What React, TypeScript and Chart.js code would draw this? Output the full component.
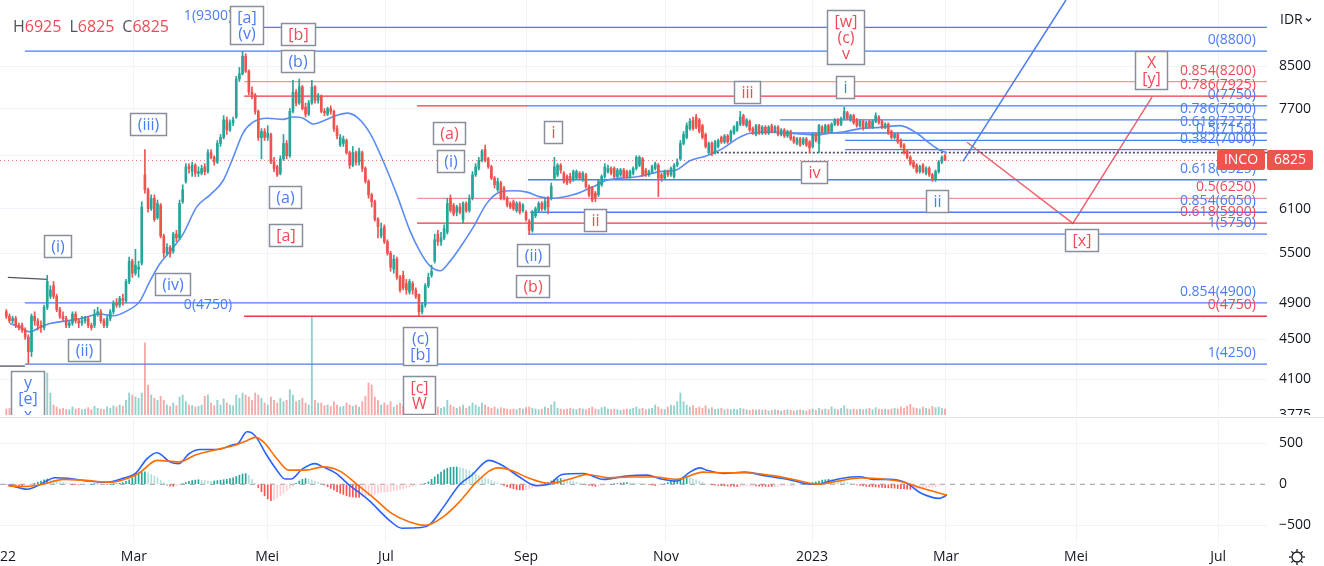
import React, { useEffect, useRef } from "react";
import { Chart, registerables } from "chart.js";
Chart.register(...registerables);

// ---------- DATA (daily candles, bar index 0 = first visible session) ----------
const opens = [
  4800,4750,4700,4725,4650,4650,4600,4525,4375,4750,
  4700,4650,4625,4850,4975,5100,4975,4825,4750,4725,
  4650,4675,4775,4700,4675,4700,4725,4650,4650,4775,
  4800,4700,4650,4725,4800,4900,4875,4950,4925,5150,
  5400,5250,5300,5375,6600,6375,6100,6250,5975,6150,
  5725,5500,5575,5525,5750,5700,6200,6500,6725,6650,
  6750,6625,6625,6725,6650,6950,6875,6800,7100,7200,
  7500,7325,7450,7550,8250,8350,8700,8400,8000,7950,
  7650,7200,7300,7200,7250,6800,6725,6625,6850,7100,
  6900,7650,8000,7800,8100,7725,7600,7800,8100,7850,
  7925,7650,7600,7700,7650,7350,7075,7100,7150,6950,
  6750,6950,6800,6950,6700,6500,6300,6200,5950,5725,
  5850,5650,5500,5300,5425,5200,5225,5125,5025,5125,
  5050,5000,4800,4875,5100,5225,5400,5750,5650,5700,
  5775,6250,6150,6050,6125,5950,6175,6075,6250,6600,
  6700,6825,7000,6850,6725,6550,6375,6475,6400,6250,
  6175,6200,6075,6175,6075,6050,5925,5800,6000,6075,
  6175,6100,6250,6250,6550,6600,6750,6625,6575,6575,
  6525,6550,6625,6525,6600,6425,6400,6325,6300,6450,
  6575,6650,6700,6700,6575,6600,6675,6650,6575,6625,
  6700,6750,6850,6675,6600,6650,6700,6750,6600,6550,
  6650,6600,6575,6750,6850,7100,7200,7350,7500,7550,
  7500,7400,7250,6950,7100,6950,7050,7200,7125,7225,
  7150,7275,7325,7425,7575,7400,7475,7350,7250,7400,
  7275,7375,7275,7400,7300,7375,7250,7325,7225,7300,
  7200,7100,7175,7100,7175,7125,7050,7250,7100,7375,
  7300,7400,7300,7425,7500,7425,7525,7625,7500,7575,
  7500,7400,7475,7375,7475,7375,7475,7550,7475,7375,
  7425,7300,7200,7250,7150,7075,6975,6875,6800,6750,
  6650,6750,6625,6700,6600,6525,6650,6800,6900,
];
const highs = [
  4825,4775,4750,4750,4675,4675,4625,4550,4775,4800,
  4725,4700,4875,5225,5100,5150,5000,4850,4800,4750,
  4700,4800,4800,4725,4750,4750,4750,4675,4825,4850,
  4825,4725,4750,4825,4925,4950,4975,5000,5175,5450,
  5425,5550,5400,6200,7000,6400,6300,6300,6225,6175,
  5750,5625,5600,5775,5800,6225,6450,6775,6775,6800,
  6775,6725,6750,6775,7000,7000,6900,7150,7250,7575,
  7550,7500,7550,8300,8475,8800,8750,8425,8100,7975,
  7675,7350,7350,7400,7275,6875,6750,6900,7250,7150,
  7700,8225,8050,8250,8125,7800,7850,8225,8125,7975,
  7950,7700,7725,7750,7675,7400,7250,7225,7175,6975,
  7050,6975,7025,6975,6725,6525,6325,6225,5975,5900,
  5875,5675,5525,5475,5450,5225,5275,5175,5175,5150,
  5075,5000,4900,5125,5250,5350,5750,5800,5775,5875,
  6250,6300,6175,6150,6175,6200,6200,6300,6650,6775,
  6875,7000,7075,6875,6750,6575,6550,6500,6425,6275,
  6200,6225,6200,6200,6175,6075,5950,6075,6125,6200,
  6200,6250,6275,6475,6875,6775,6775,6650,6600,6625,
  6675,6675,6650,6650,6625,6450,6425,6350,6525,6600,
  6775,6750,6725,6725,6700,6700,6700,6675,6675,6725,
  6900,6900,6875,6700,6675,6750,6800,6775,6625,6675,
  6675,6725,6775,6850,7150,7300,7450,7525,7550,7600,
  7525,7425,7275,7125,7125,7150,7175,7225,7250,7250,
  7325,7400,7475,7650,7600,7525,7500,7375,7425,7425,
  7400,7400,7400,7425,7400,7400,7350,7350,7325,7325,
  7225,7200,7200,7200,7200,7150,7275,7275,7425,7400,
  7425,7425,7450,7525,7525,7550,7725,7650,7600,7600,
  7525,7500,7500,7475,7500,7500,7625,7575,7500,7450,
  7450,7325,7275,7275,7175,7100,7000,6900,6825,6775,
  6750,6775,6725,6725,6625,6675,6825,6900,6925,
];
const lows = [
  4725,4675,4675,4625,4600,4575,4500,4250,4325,4650,
  4600,4575,4600,4825,4950,4950,4800,4725,4700,4625,
  4625,4650,4675,4625,4650,4675,4625,4600,4625,4750,
  4675,4625,4625,4700,4775,4850,4850,4875,4900,5125,
  5200,5225,5200,5350,6325,6050,6075,5925,5950,5700,
  5450,5475,5450,5500,5650,5675,6175,6475,6625,6575,
  6575,6575,6600,6600,6625,6850,6750,6775,7050,7175,
  7250,7300,7400,7525,8200,8325,8375,7950,7875,7600,
  7150,6850,7150,7150,6775,6650,6575,6600,6825,6850,
  6875,7625,7750,7775,7675,7550,7575,7775,7800,7800,
  7625,7575,7575,7600,7300,7175,7050,7050,6925,6700,
  6725,6750,6750,6650,6475,6250,6125,5925,5700,5700,
  5625,5475,5275,5250,5175,5025,5050,5000,5000,5000,
  4950,4750,4775,4850,5075,5200,5375,5600,5600,5675,
  5750,6050,6000,6000,6025,5900,6050,6050,6225,6575,
  6675,6800,6800,6700,6525,6400,6350,6225,6225,6125,
  6100,6075,6050,6025,6050,5925,5750,5775,5975,6050,
  6075,6075,6025,6225,6525,6575,6625,6475,6450,6475,
  6500,6525,6525,6500,6400,6275,6200,6200,6275,6425,
  6550,6625,6600,6550,6550,6575,6550,6550,6550,6600,
  6675,6725,6575,6575,6575,6625,6675,6275,6500,6525,
  6575,6575,6550,6725,6825,7075,7175,7325,7325,7350,
  7275,7175,7025,6925,6900,6925,7025,7100,7100,7100,
  7125,7250,7300,7400,7400,7375,7300,7250,7225,7250,
  7250,7250,7250,7275,7275,7225,7225,7200,7200,7150,
  7100,7075,7050,7075,7050,6950,7025,7125,6950,7275,
  7275,7275,7275,7400,7400,7400,7500,7500,7475,7425,
  7375,7375,7325,7350,7350,7350,7450,7425,7350,7350,
  7250,7175,7175,7100,7025,6925,6850,6750,6700,6625,
  6625,6625,6600,6575,6500,6500,6625,6775,6825,
];
const closes = [
  4750,4700,4725,4650,4625,4600,4525,4375,4750,4700,
  4650,4625,4850,5150,5050,4975,4825,4750,4725,4650,
  4675,4775,4700,4675,4700,4725,4650,4625,4775,4800,
  4700,4650,4725,4800,4900,4875,4950,4925,5150,5400,
  5250,5350,5325,6125,6375,6100,6250,5950,6175,5725,
  5500,5575,5500,5750,5700,6175,6375,6725,6700,6750,
  6625,6650,6700,6650,6950,6875,6800,7100,7200,7500,
  7325,7450,7500,8250,8350,8700,8400,8000,7950,7650,
  7200,7300,7200,7275,6800,6700,6600,6850,7100,6900,
  7650,8000,7800,8100,7700,7600,7800,8100,7850,7925,
  7650,7625,7700,7650,7350,7225,7200,7175,6950,6750,
  6950,6800,6975,6700,6500,6300,6200,5950,5850,5825,
  5650,5500,5325,5425,5200,5050,5075,5050,5150,5050,
  4975,4800,4875,5100,5200,5275,5675,5650,5700,5825,
  6175,6075,6025,6125,6050,6175,6075,6250,6600,6725,
  6825,6975,6825,6725,6550,6450,6500,6250,6250,6150,
  6125,6100,6175,6050,6150,5950,5800,6050,6100,6175,
  6100,6200,6125,6425,6725,6750,6675,6500,6475,6500,
  6650,6650,6550,6625,6425,6300,6225,6250,6500,6575,
  6725,6700,6625,6575,6675,6675,6575,6575,6650,6700,
  6875,6875,6600,6600,6650,6725,6775,6550,6550,6650,
  6600,6700,6750,6800,7100,7250,7400,7475,7350,7375,
  7300,7200,7050,7100,6925,7125,7150,7125,7225,7125,
  7300,7375,7450,7550,7425,7500,7325,7275,7400,7275,
  7375,7275,7375,7300,7375,7250,7325,7225,7300,7175,
  7125,7175,7075,7175,7075,7025,7250,7150,7400,7300,
  7400,7300,7425,7500,7425,7525,7650,7525,7575,7450,
  7400,7475,7350,7450,7375,7475,7575,7450,7375,7425,
  7275,7200,7250,7125,7050,6950,6875,6775,6725,6650,
  6725,6650,6700,6600,6525,6650,6800,6875,6825,
];
// volume, millions of shares
const volumes = [
  9,10,8,12,9,10,14,18,15,12,
  12,11,18,63,33,15,12,9,10,8,
  8,12,9,10,8,9,11,8,13,10,
  9,8,12,10,14,12,15,13,22,33,
  30,27,25,33,108,45,30,25,22,28,
  22,15,13,18,14,27,30,20,15,14,
  12,13,15,28,30,18,14,22,15,24,
  18,15,14,30,25,33,30,27,22,33,
  30,25,18,15,27,22,18,25,20,22,
  38,30,20,22,25,18,15,148,22,18,
  18,14,15,13,20,15,12,13,18,15,
  13,15,12,20,28,48,45,27,22,15,
  18,15,20,12,15,18,13,12,10,15,
  18,25,15,12,14,10,18,12,10,12,
  22,15,12,10,12,15,10,13,18,15,
  12,18,15,12,10,12,9,11,10,9,
  8,9,8,10,9,11,12,10,9,8,
  9,12,10,15,20,10,9,8,9,10,
  9,8,10,9,8,10,12,9,8,11,
  12,9,8,9,8,7,8,9,8,10,
  12,9,10,8,9,10,15,12,9,8,
  12,15,14,20,33,20,15,12,14,10,
  12,10,14,9,11,8,9,10,8,9,
  8,9,8,10,9,8,7,8,7,8,
  7,8,6,7,8,7,6,7,8,7,
  6,7,8,7,6,8,9,7,10,8,
  9,8,12,9,8,10,14,9,8,9,
  8,9,8,9,10,8,11,9,8,9,
  8,9,10,9,12,10,13,16,11,10,
  9,12,10,9,13,11,12,10,9,
];
// moving average
const maBars = [1.2,4.3,7.5,10.7,13.9,19.3,24.3,29.7,33.9,38.3,42.4,45.6,48.8,52,56.1,60.5,64.7,68.8,72,75.1,78.3,82.8,87.8,91,94.2,97.4,99.6,105,108.2,111.3,115.5,119.6,124,128.2,131.3,134.5,137.7,140.9,144,148.2,152.6,156.7,160.9,165.3,169.4,173.6,179.9,186.3,190.7,194.8,200.2,207.5,212.9,217,222.4,227.5,232,236.1,243.4,248.8,254.2,257.4,261.5,265.6,271,277.4,283.7,289.1,293.2,296.4,298.6];
const maValues = [4670,4630,4580,4630,4670,4700,4730,4775,4755,4810,4920,5155,5370,5525,5750,6130,6300,6510,6870,7270,7460,7530,7510,7550,7530,7430,7460,7580,7620,7550,7270,6820,6300,5790,5525,5340,5280,5400,5570,5840,6180,6340,6360,6340,6270,6250,6300,6420,6520,6550,6570,6650,6680,6820,6900,7020,7180,7270,7290,7270,7250,7240,7270,7290,7350,7370,7400,7270,7100,6990,6950];
// MACD pane
const macdBars = [0.7,6.8,10.1,15.5,19.6,25,31.7,37,41.2,44.7,47.8,52,54.8,58,61.5,66.9,71.7,73.6,76.4,77.7,79.6,82.4,85.9,88.5,90.4,93.9,98,100.5,104.7,108.8,112.3,115.5,119.6,122.1,125.6,131.7,134.5,138.6,144,147.8,153.2,157.4,162.8,168.2,172.3,176.4,183.1,189.7,196.7,203.4,207.5,212.9,217,220.2,222.4,227.8,234.5,241.2,248.2,253.6,257.4,261.5,268.2,271,275.1,280.5,285.9,290,293.9,296.1,298.6];
const macdValues = [-8,-60,-16,80,72,44,24,72,140,312,384,272,252,372,424,424,480,500,640,632,560,372,172,64,64,184,252,212,132,-8,-108,-208,-368,-456,-536,-528,-488,-288,0,112,292,232,92,-16,0,120,132,60,100,112,68,40,148,200,172,132,148,100,60,8,0,40,88,92,60,60,12,-100,-160,-172,-132];
const signalBars = [0.7,6.1,11.5,18.3,25,33.2,38.6,42.4,47.8,54.8,60.2,66.9,72.3,76.4,79,81.8,85.9,89.7,95.1,100.5,105.9,111.3,116.7,122.1,127.8,133.2,138.6,144,149.4,156.1,160.2,165.6,172.3,179,184.3,191.3,198,205.9,212.9,221.2,227.8,234.5,242.8,250.7,257.4,264.3,271,277.7,284.7,290,295.5,298.6];
const signalValues = [-20,-28,0,60,48,24,72,144,292,272,360,424,472,532,572,512,312,172,172,212,160,0,-168,-348,-456,-500,-400,-208,32,200,172,80,12,64,120,80,88,88,60,148,140,140,108,52,0,40,76,68,28,-40,-100,-132];
const histValues = [
  -5,-10,-15,-20,-25,-28,-25,-18,-5,10,
  25,40,55,65,60,50,40,30,20,12,
  5,-2,-5,-8,-6,-4,-2,0,2,4,
  2,0,-3,0,4,8,12,20,35,55,
  80,110,135,150,152,140,120,100,80,50,
  20,-10,-20,-25,-20,-10,5,20,35,45,
  50,55,50,45,40,35,40,45,50,55,
  60,70,80,95,110,125,130,110,60,10,
  -40,-90,-140,-180,-200,-195,-170,-140,-110,-80,
  -50,-20,10,40,60,70,65,55,40,25,
  10,-10,-30,-50,-70,-90,-110,-125,-140,-150,
  -155,-160,-160,-155,-150,-140,-130,-120,-110,-100,
  -95,-90,-85,-80,-75,-65,-55,-45,-35,-25,
  -15,-8,-2,10,30,60,90,120,150,175,
  195,205,210,210,205,195,180,165,145,125,
  105,90,75,60,45,30,15,0,-15,-30,
  -45,-55,-65,-70,-70,-65,-55,-45,-30,-15,
  -5,10,25,40,55,65,70,65,55,45,
  35,25,15,5,-5,-15,-20,-25,-20,-15,
  -10,-5,0,5,10,15,18,20,18,15,
  12,8,4,0,-5,-10,-15,-12,-5,5,
  20,35,50,65,75,80,80,75,65,55,
  40,25,10,0,-8,-12,-15,-18,-20,-22,
  -24,-25,-26,-25,-24,-22,-20,-18,-20,-22,
  -24,-25,-26,-27,-26,-25,-22,-20,-18,-15,
  -12,-8,-4,0,5,12,20,30,40,50,
  55,60,58,55,50,40,30,20,10,0,
  -8,-15,-20,-25,-28,-30,-32,-35,-38,-40,
  -42,-45,-48,-52,-55,-58,-60,-62,-60,-58,
  -55,-50,-45,-40,-35,-30,-22,-15,-8,
];
// axes
const priceTicks = [3775, 4100, 4500, 4900, 5500, 6100, 6900, 7700, 8500];
const macdTicks = [-500, 0, 500];
const monthTickBars = [-2, 40.5, 82.8, 120.5, 165, 209.4, 255.8, 298.3, 339.6, 384.7];
const monthTickLabels = ["2022", "Mar", "Mei", "Jul", "Sep", "Nov", "2023", "Mar", "Mei", "Jul"];
// drawings: fibonacci levels (price, start bar, end bar, kind)
const fibPrices = [9300, 8800, 8200, 7925, 7750, 7750, 7500, 7275, 7150, 7000, 6950, 6525, 6250, 6050, 5900, 5750, 4900, 4750, 4250, 4230];
const fibStarts = [80.5, 5.9, 75.5, 75.5, 130.4, 165.6, 245.6, 245.6, 266.3, 266.3, 224.3, 165.6, 130.4, 166.3, 130.4, 165.6, 5.9, 75.5, 5.9, -2];
const fibEnds = [401, 401, 401, 401, 165.6, 401, 401, 401, 401, 401, 401, 401, 401, 401, 401, 401, 401, 401, 401, 5.9];
const fibKinds = ["b", "b", "rs", "r", "r", "b", "b", "b", "b", "b", "dot", "b", "rs", "b", "r", "b", "b", "r", "b", "g"];
const fibLabelTexts = ["0(8800)", "0.854(8200)", "0.786(7925)", "0(7750)", "0.786(7500)", "0.618(7275)", "0.5(7150)", "0.382(7000)", "0.618(6525)", "0.5(6250)", "0.854(6050)", "0.618(5900)", "1(5750)", "0.854(4900)", "0(4750)", "1(4250)", "1(9300)", "0(4750)"];
const fibLabelPrices = [8800, 8200, 7925, 7750, 7500, 7275, 7150, 7000, 6525, 6250, 6050, 5900, 5750, 4900, 4750, 4250, 9300, 4750];
const fibLabelBars = [396.7, 396.7, 396.7, 396.7, 396.7, 396.7, 396.7, 396.7, 396.7, 396.7, 396.7, 396.7, 396.7, 396.7, 396.7, 396.7, 71.7, 71.7];
const fibLabelKinds = ["b", "r", "r", "b", "b", "b", "b", "b", "b", "r", "b", "r", "b", "b", "r", "b", "b", "b"];
// Elliott wave labels
const waveTexts = ["[a]\n(v)", "[b]", "(b)", "(iii)", "(i)", "(iv)", "(ii)", "(a)", "[a]", "y\n[e]\nx", "(c)\n[b]", "[c]\nW", "(a)", "(i)", "i", "(ii)", "(b)", "ii", "iii", "[w]\n(c)\nv", "i", "iv", "ii", "[x]", "X\n[y]"];
const waveBars = [76.1, 92.6, 92.6, 45, 16.4, 52.9, 24.7, 88.5, 88.5, 6.7, 131.2, 131, 140.5, 140.9, 173.6, 167.2, 167.2, 187, 235.1, 266.3, 266.3, 256.3, 295.3, 341.2, 363.4];
const wavePrices = [9363, 9158, 8599, 7426, 5589, 5115, 4387, 6265, 5734, 3925, 4433, 3959, 7272, 6813, 7289, 5473, 5092, 5938, 8000, 9094, 8094, 6648, 6214, 5668, 8431];
const waveKinds = ["b", "r", "b", "b", "b", "b", "b", "b", "r", "b", "b", "r", "r", "b", "r", "b", "r", "r", "r", "r", "b", "r", "b", "r", "r"];
// trend / projection lines
const blueProjBars = [303.7, 336.4];
const blueProjPrices = [6810, 9913];
const redProjBars = [305, 338.6, 363.7];
const redProjPrices = [7120, 5896, 7907];
const greyLineBars = [0.5, 13.2];
const greyLinePrices = [5199, 5176];

// ---------- STYLE ----------
const FONT = '"Open Sans", "Noto Sans", sans-serif';
const GREEN = "#26a69a";
const RED = "#ef5350";
const BLUE_L = "#4a7cf5";
const RED_L = "#f23645";
const RED_S = "rgba(242,54,69,0.55)";
const BLUE_T = "#4a7cf5";
const RED_T = "#f04a57";
const GRID = "#f0f3fa";
const AXIS_TEXT = "#131722";
const X_MIN = -2;
const X_MAX = 400.22;
const PRICE_MIN = 3775;
const PRICE_MAX = 9913;

const kindColor = (k: string) =>
  k === "b" ? BLUE_L : k === "r" ? RED_L : k === "rs" ? RED_S : "#50535e";

function drawBox(ctx: CanvasRenderingContext2D, cx: number, cy: number, text: string, color: string) {
  const lines = text.split("\n");
  ctx.font = `16px ${FONT}`;
  const tw = Math.max(...lines.map((l) => ctx.measureText(l).width));
  const w = Math.round(tw + 14);
  const lh = 16;
  const h = lines.length * lh + 6;
  const x0 = Math.round(cx - w / 2) + 0.5;
  const y0 = Math.round(cy - h / 2) + 0.5;
  ctx.fillStyle = "#ffffff";
  ctx.fillRect(x0, y0, w, h);
  ctx.strokeStyle = "#8a8e9a";
  ctx.lineWidth = 1.5;
  ctx.strokeRect(x0, y0, w, h);
  ctx.fillStyle = color;
  ctx.textAlign = "center";
  ctx.textBaseline = "middle";
  lines.forEach((l, k) => ctx.fillText(l, x0 + w / 2, y0 + 3 + lh / 2 + k * lh + 0.5));
}

function roundRect(ctx: CanvasRenderingContext2D, x: number, y: number, w: number, h: number, r: number) {
  ctx.beginPath();
  ctx.moveTo(x + r, y);
  ctx.lineTo(x + w - r, y);
  ctx.quadraticCurveTo(x + w, y, x + w, y + r);
  ctx.lineTo(x + w, y + h - r);
  ctx.quadraticCurveTo(x + w, y + h, x + w - r, y + h);
  ctx.lineTo(x + r, y + h);
  ctx.quadraticCurveTo(x, y + h, x, y + h - r);
  ctx.lineTo(x, y + r);
  ctx.quadraticCurveTo(x, y, x + r, y);
  ctx.closePath();
}

const priceOverlay = {
  id: "priceOverlay",
  afterDraw(chart: any) {
    const { ctx, chartArea: a, scales } = chart;
    const xs = scales.x;
    const ys = scales.y;
    ctx.save();
    ctx.beginPath();
    ctx.rect(a.left, a.top, a.right - a.left, a.bottom - a.top);
    ctx.clip();
    ctx.font = `14px ${FONT}`;
    ctx.textAlign = "right";
    ctx.textBaseline = "middle";
    fibLabelTexts.forEach((t, i) => {
      ctx.fillStyle = fibLabelKinds[i] === "b" ? BLUE_T : RED_T;
      ctx.fillText(t, xs.getPixelForValue(fibLabelBars[i]), ys.getPixelForValue(fibLabelPrices[i]) - 11);
    });
    waveTexts.forEach((t, i) => {
      drawBox(ctx, xs.getPixelForValue(waveBars[i]), ys.getPixelForValue(wavePrices[i]), t, waveKinds[i] === "b" ? BLUE_T : RED_T);
    });
    ctx.restore();

    ctx.save();
    ctx.font = `16px ${FONT}`;
    ctx.textAlign = "left";
    ctx.textBaseline = "middle";
    const n = closes.length - 1;
    const parts: [string, string, number][] = [
      ["H", "#50535e", 0],
      [String(highs[n]), RED_T, 8],
      ["L", "#50535e", 0],
      [String(lows[n]), RED_T, 8],
      ["C", "#50535e", 0],
      [String(closes[n]), RED_T, 0],
    ];
    let x = 13;
    for (const [t, c, gap] of parts) {
      ctx.fillStyle = c;
      ctx.fillText(t, x, 27);
      x += ctx.measureText(t).width + gap;
    }
    ctx.font = `14px ${FONT}`;
    ctx.fillStyle = AXIS_TEXT;
    ctx.fillText("IDR", 1280, 20);
    ctx.strokeStyle = AXIS_TEXT;
    ctx.lineWidth = 1.2;
    ctx.beginPath();
    ctx.moveTo(1306, 18.5);
    ctx.lineTo(1308.5, 21);
    ctx.lineTo(1311, 18.5);
    ctx.stroke();
    const cy = Math.round(ys.getPixelForValue(closes[n]));
    ctx.fillStyle = RED;
    roundRect(ctx, 1217, cy - 10, 48, 20, 2);
    ctx.fill();
    roundRect(ctx, 1267, cy - 10, 46, 20, 2);
    ctx.fill();
    ctx.fillStyle = "#ffffff";
    ctx.textAlign = "center";
    ctx.font = `14px ${FONT}`;
    ctx.fillText("INCO", 1241, cy + 0.5);
    ctx.fillText(String(closes[n]), 1290, cy + 0.5);
    ctx.restore();
  },
};

const macdOverlay = {
  id: "macdOverlay",
  afterDraw(chart: any) {
    const { ctx, chartArea: a, scales } = chart;
    const xs = scales.x;
    ctx.save();
    ctx.fillStyle = "#e0e3eb";
    ctx.fillRect(0, 1, 1324, 1);
    ctx.font = `14px ${FONT}`;
    ctx.fillStyle = AXIS_TEXT;
    ctx.textAlign = "center";
    ctx.textBaseline = "middle";
    monthTickLabels.forEach((t, i) => {
      ctx.fillText(t, xs.getPixelForValue(monthTickBars[i]), a.bottom + 15);
    });
    const gx = 1297, gy = a.bottom + 15;
    ctx.strokeStyle = AXIS_TEXT;
    ctx.lineWidth = 1.3;
    ctx.beginPath();
    ctx.arc(gx, gy, 5, 0, Math.PI * 2);
    ctx.stroke();
    for (let k = 0; k < 8; k++) {
      const an = (k * Math.PI) / 4;
      ctx.beginPath();
      ctx.moveTo(gx + Math.cos(an) * 5.5, gy + Math.sin(an) * 5.5);
      ctx.lineTo(gx + Math.cos(an) * 8, gy + Math.sin(an) * 8);
      ctx.stroke();
    }
    ctx.restore();
  },
};

function xAxis() {
  return {
    type: "linear",
    min: X_MIN,
    max: X_MAX,
    offset: false,
    grid: { color: GRID, drawTicks: false, offset: false },
    border: { display: false },
    ticks: { display: false },
    afterBuildTicks: (s: any) => {
      s.ticks = monthTickBars.filter((v) => v > 0).map((v) => ({ value: v }));
    },
    afterFit: (s: any) => {
      s.height = 0;
      s.paddingLeft = 0;
      s.paddingRight = 0;
    },
  };
}

export default function App() {
  const priceRef = useRef<HTMLCanvasElement>(null);
  const macdRef = useRef<HTMLCanvasElement>(null);

  useEffect(() => {
    const idx = closes.map((_, i) => i);
    const up = idx.map((i) => closes[i] >= opens[i]);
    const candleCol = up.map((u) => (u ? GREEN : RED));
    const volCol = up.map((u) => (u ? "rgba(38,166,154,0.5)" : "rgba(239,83,80,0.5)"));

    const fibSets = fibPrices.map((p, i) => ({
      type: "line",
      data: [
        { x: fibStarts[i], y: p },
        { x: fibEnds[i], y: p },
      ],
      borderColor: kindColor(fibKinds[i]),
      borderWidth: fibKinds[i] === "dot" ? 1.6 : 1.3,
      borderDash: fibKinds[i] === "dot" ? [2, 2] : [],
      pointRadius: 0,
      yAxisID: "y",
      order: 3,
    }));

    const n = closes.length - 1;
    const priceChart = new Chart(priceRef.current as HTMLCanvasElement, {
      type: "bar",
      data: {
        datasets: [
          {
            type: "bar",
            data: idx.map((i) => ({ x: i, y: volumes[i] })),
            backgroundColor: volCol,
            barThickness: 1.2,
            grouped: false,
            yAxisID: "yVol",
            order: 20,
          },
          ...fibSets,
          {
            type: "line",
            data: [
              { x: X_MIN, y: closes[n] },
              { x: X_MAX, y: closes[n] },
            ],
            borderColor: "rgba(242,54,69,0.75)",
            borderWidth: 1,
            borderDash: [1, 3],
            pointRadius: 0,
            yAxisID: "y",
            order: 4,
          },
          {
            type: "line",
            data: maBars.map((b, i) => ({ x: b, y: maValues[i] })),
            borderColor: "#5b8cf6",
            borderWidth: 1.6,
            pointRadius: 0,
            cubicInterpolationMode: "monotone",
            yAxisID: "y",
            order: 2,
          },
          {
            type: "line",
            data: blueProjBars.map((b, i) => ({ x: b, y: blueProjPrices[i] })),
            borderColor: BLUE_L,
            borderWidth: 1.5,
            pointRadius: 0,
            yAxisID: "y",
            order: 3,
          },
          {
            type: "line",
            data: redProjBars.map((b, i) => ({ x: b, y: redProjPrices[i] })),
            borderColor: "#f0626d",
            borderWidth: 1.5,
            pointRadius: 0,
            yAxisID: "y",
            order: 3,
          },
          {
            type: "line",
            data: greyLineBars.map((b, i) => ({ x: b, y: greyLinePrices[i] })),
            borderColor: "#50535e",
            borderWidth: 1.3,
            pointRadius: 0,
            yAxisID: "y",
            order: 3,
          },
          {
            type: "bar",
            data: idx.map((i) => ({ x: i, y: [lows[i], highs[i]] })),
            backgroundColor: candleCol,
            barThickness: 1,
            grouped: false,
            yAxisID: "y",
            order: 1,
          },
          {
            type: "bar",
            data: idx.map((i) => ({ x: i, y: [Math.min(opens[i], closes[i]), Math.max(opens[i], closes[i])] })),
            backgroundColor: candleCol,
            barThickness: 2,
            minBarLength: 1,
            grouped: false,
            yAxisID: "y",
            order: 0,
          },
        ],
      } as any,
      options: {
        responsive: false,
        animation: false,
        devicePixelRatio: 1,
        events: [],
        layout: { padding: 0 },
        plugins: { legend: { display: false }, tooltip: { enabled: false } },
        scales: {
          x: xAxis(),
          y: {
            type: "logarithmic",
            position: "right",
            min: PRICE_MIN,
            max: PRICE_MAX,
            beginAtZero: false,
            grid: { color: GRID, drawTicks: false },
            border: { display: false },
            ticks: {
              padding: 12,
              color: AXIS_TEXT,
              font: { family: FONT, size: 14 },
              callback: (v: any) => String(v),
            },
            afterBuildTicks: (s: any) => {
              s.ticks = priceTicks.map((v) => ({ value: v }));
            },
            afterFit: (s: any) => {
              s.width = 57;
              s.paddingTop = 0;
              s.paddingBottom = 0;
            },
          },
          yVol: { type: "linear", display: false, min: 0, max: 622 },
        },
      } as any,
      plugins: [priceOverlay],
    });

    const histCol = histValues.map((v, i) => {
      const p = i > 0 ? histValues[i - 1] : 0;
      if (v >= 0) return v >= p ? "#26a69a" : "#b2dfdb";
      return v <= p ? "#ff5252" : "#ffcdd2";
    });

    const macdChart = new Chart(macdRef.current as HTMLCanvasElement, {
      type: "bar",
      data: {
        datasets: [
          {
            type: "line",
            data: [
              { x: X_MIN, y: 0 },
              { x: X_MAX, y: 0 },
            ],
            borderColor: "#9598a1",
            borderWidth: 1,
            borderDash: [5, 5],
            pointRadius: 0,
            order: 10,
          },
          {
            type: "bar",
            data: histValues.map((v, i) => ({ x: i, y: v })),
            backgroundColor: histCol,
            barThickness: 1,
            grouped: false,
            order: 5,
          },
          {
            type: "line",
            data: macdBars.map((b, i) => ({ x: b, y: macdValues[i] })),
            borderColor: "#2962ff",
            borderWidth: 1.6,
            pointRadius: 0,
            cubicInterpolationMode: "monotone",
            order: 2,
          },
          {
            type: "line",
            data: signalBars.map((b, i) => ({ x: b, y: signalValues[i] })),
            borderColor: "#ff6d00",
            borderWidth: 1.6,
            pointRadius: 0,
            cubicInterpolationMode: "monotone",
            order: 1,
          },
        ],
      } as any,
      options: {
        responsive: false,
        animation: false,
        devicePixelRatio: 1,
        events: [],
        layout: { padding: { top: 3, bottom: 24, left: 0, right: 0 } },
        plugins: { legend: { display: false }, tooltip: { enabled: false } },
        scales: {
          x: xAxis(),
          y: {
            type: "linear",
            position: "right",
            min: -704,
            max: 796,
            grid: {
              drawTicks: false,
              color: (c: any) => (c.tick && c.tick.value === 0 ? "rgba(0,0,0,0)" : GRID),
            },
            border: { display: false },
            ticks: {
              padding: 12,
              color: AXIS_TEXT,
              font: { family: FONT, size: 14 },
              callback: (v: any) => (v < 0 ? "\u2212" + Math.abs(v) : String(v)),
            },
            afterBuildTicks: (s: any) => {
              s.ticks = macdTicks.map((v) => ({ value: v }));
            },
            afterFit: (s: any) => {
              s.width = 57;
              s.paddingTop = 0;
              s.paddingBottom = 0;
            },
          },
        },
      } as any,
      plugins: [macdOverlay],
    });

    return () => {
      priceChart.destroy();
      macdChart.destroy();
    };
  }, []);

  return (
    <div style={{ position: "absolute", left: 0, top: 0, width: 1324, height: 566, background: "#ffffff", overflow: "hidden" }}>
      <canvas ref={priceRef} width={1324} height={415} style={{ position: "absolute", left: 0, top: 0 }} />
      <canvas ref={macdRef} width={1324} height={150} style={{ position: "absolute", left: 0, top: 416 }} />
    </div>
  );
}
